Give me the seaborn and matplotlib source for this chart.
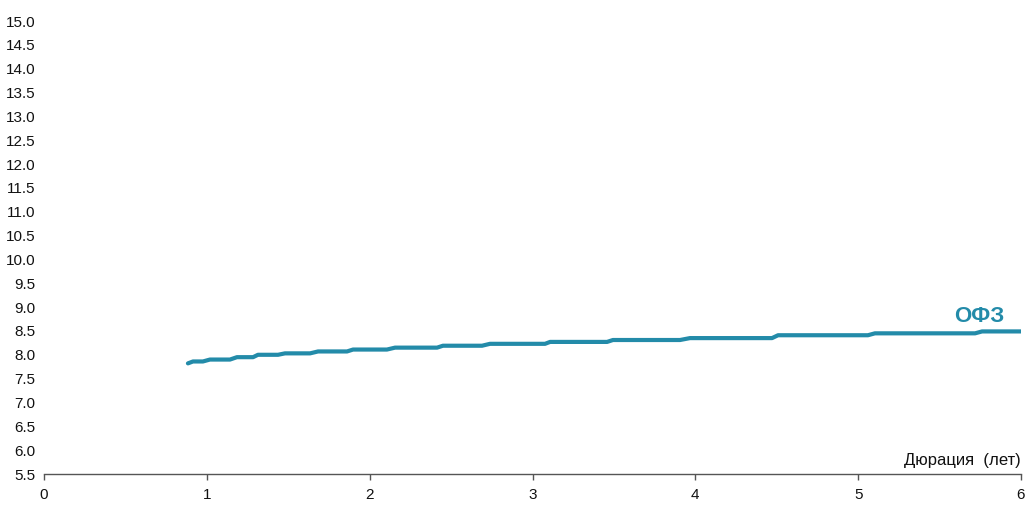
import matplotlib
matplotlib.use("Agg")
import matplotlib.pyplot as plt
import seaborn as sns
import pandas as pd
import numpy as np

# Data
duration = [0.884, 0.915, 0.976, 1.019, 1.142, 1.185, 1.284, 1.314, 1.437, 1.480,
            1.634, 1.683, 1.861, 1.898, 2.106, 2.156, 2.414, 2.450, 2.690, 2.739,
            3.077, 3.108, 3.458, 3.494, 3.906, 3.967, 4.471, 4.508, 5.060, 5.103,
            5.718, 5.761, 6.0]
yield_ofz = [7.82, 7.86, 7.86, 7.90, 7.90, 7.95, 7.95, 8.00, 8.00, 8.03,
             8.03, 8.07, 8.07, 8.11, 8.11, 8.15, 8.15, 8.19, 8.19, 8.23,
             8.23, 8.27, 8.27, 8.31, 8.31, 8.35, 8.35, 8.41, 8.41, 8.45,
             8.45, 8.49, 8.49]
series_label = "ОФЗ"
x_label = "Дюрация  (лет)"
x_ticks = [0, 1, 2, 3, 4, 5, 6]
y_ticks = [5.5, 6.0, 6.5, 7.0, 7.5, 8.0, 8.5, 9.0, 9.5, 10.0, 10.5, 11.0,
           11.5, 12.0, 12.5, 13.0, 13.5, 14.0, 14.5, 15.0]

sns.set_theme(style="white")
plt.rcParams['font.family'] = ['Liberation Sans', 'DejaVu Sans']

color = "#238ba9"
df = pd.DataFrame({"x": duration, "y": yield_ofz})

fig = plt.figure(figsize=(10.26, 5.05), dpi=100)
ax = fig.add_axes([44/1026, 1 - 474/505, (1021 - 44)/1026, (474 - 21)/505])
sns.lineplot(data=df, x="x", y="y", ax=ax, color=color, linewidth=3.0,
             sort=False, estimator=None)

ax.set_xlim(0, 6)
ax.set_ylim(5.5, 15.0)
ax.set_xticks(x_ticks)
ax.set_xticklabels([str(t) for t in x_ticks], fontsize=11, color="#111111")
ax.set_yticks(y_ticks)
ax.set_yticklabels([f"{t:.1f}" for t in y_ticks], fontsize=11, color="#111111")
ax.set_xlabel("")
ax.set_ylabel("")

for s in ["top", "right", "left"]:
    ax.spines[s].set_visible(False)
ax.spines["bottom"].set_color("#555555")
ax.spines["bottom"].set_linewidth(1.0)
ax.tick_params(axis="x", which="both", bottom=True, length=4, width=1,
               color="#555555", pad=6, direction="out")
ax.tick_params(axis="y", left=False, length=0, pad=6)
ax.grid(False)

ax.text(6.0, 5.62, x_label, ha="right", va="bottom", fontsize=12, color="#111111")
ax.text(5.90, 8.69, series_label, ha="right", va="baseline", fontsize=16,
        fontweight="bold", color=color)

fig.savefig("out.png", dpi=100)
